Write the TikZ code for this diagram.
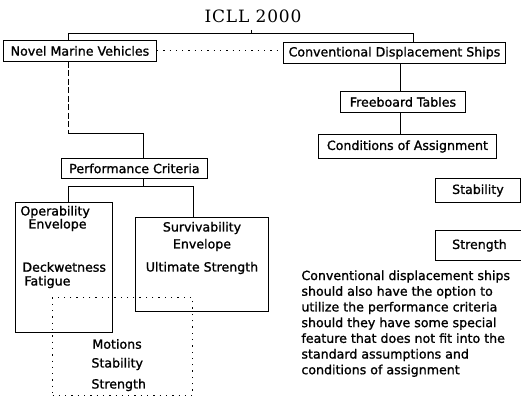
\documentclass[tikz,border=0pt]{standalone}
\usepackage{fontspec}
\setmainfont[FakeBold=1.2]{DejaVu Sans}
\newfontfamily\titlefont[LetterSpace=5]{DejaVu Serif}
\newcommand\lblfont{\fontsize{12.6}{15.7}\selectfont}
\usetikzlibrary{positioning}
\tikzset{
    %Define style for boxes
    box/.style={
           rectangle,
           draw=black,
           line width=0.9pt,
           anchor=north west,
           inner sep=0pt,
           font=\lblfont,
           text centered},
    % Define style for free text
    lbl/.style={
           inner sep=0pt,
           font=\lblfont},
    ttl/.style={
           inner sep=0pt,
           font=\titlefont\fontsize{17}{19}\selectfont},
    % Define line styles
    dotline/.style={
           line width=1pt,
           dash pattern=on 1.3pt off 5pt},
    dashline/.style={
           line width=0.7pt,
           dash pattern=on 6pt off 2.5pt}
}

\begin{document}
\begin{tikzpicture}[x=1pt,y=-1pt,line width=0.9pt]
\useasboundingbox (0,0) rectangle (521,401);
\node[ttl](title) at (253,16){ICLL 2000};
% upper row
\node[box,minimum width=153pt,minimum height=21pt](novel) at (3,40){Novel Marine Vehicles};
\node[box,minimum width=222pt,minimum height=21pt](conv) at (283,42){Conventional Displacement Ships};
\node[box,minimum width=125pt,minimum height=21pt](free) at (340,91){Freeboard Tables};
\node[box,minimum width=178pt,minimum height=24pt](cond) at (318,134){Conditions of Assignment};
\node[box,minimum width=85pt,minimum height=24pt](stab) at (435,178){Stability};
\node[box,minimum width=88pt,minimum height=30pt,text width=85pt](stren) at (435,230){Strength};
% left branch
\node[box,minimum width=146pt,minimum height=20pt](perf) at (61,158){Performance Criteria};
\node[box,minimum width=97pt,minimum height=130pt](oper) at (15,202){};
\node[box,minimum width=133pt,minimum height=94pt](surv) at (135,217){};
\node[box,dotline,minimum width=140pt,minimum height=98pt](motion) at (52,297){};
\node[lbl,anchor=west](operA) at (20,212){Operability};
\node[lbl,anchor=west](operB) at (28,225){Envelope};
\node[lbl,anchor=west](deck) at (22,267){Deckwetness};
\node[lbl,anchor=west](fat) at (24,282){Fatigue};
\node[lbl](survA) at (202,228){Survivability};
\node[lbl](survB) at (202,245){Envelope};
\node[lbl](ult) at (202,268){Ultimate Strength};
\node[lbl,anchor=west](mot) at (92,344){Motions};
\node[lbl,anchor=west](stabm) at (91,364){Stability};
\node[lbl,anchor=west](strm) at (91,385){Strength};
\node[lbl,anchor=north west,align=left](note) at (301,270){Conventional displacement ships\\
should also have the option to\\
utilize the performance criteria\\
should they have some special\\
feature that does not fit into the\\
standard assumptions and\\
conditions of assignment};
% connectors
\coordinate (tk) at (251,30);
\coordinate (brk) at (251,33);
\coordinate (bl) at (68,33);
\coordinate (br) at (413,33);
\coordinate (k1) at (68,133);
\coordinate (k2) at (143,133);
\coordinate (k3) at (143,186);
\coordinate (k4) at (68,186);
\coordinate (k5) at (193,186);
\coordinate (k6) at (400,80);
\draw (tk) -- (brk);
\draw (novel.north -| bl) -- (bl) -- (br) -- (conv.north -| br);
\draw[dotline] (novel.east) -- (novel.east -| conv.west);
\draw[dashline] (novel.south -| k1) -- (k1);
\draw (k1) -- (k2) -- (perf.north -| k2);
\draw (perf.south -| k3) -- (k3);
\draw (oper.north -| k4) -- (k4) -- (k5) -- (surv.north -| k5);
\draw (conv.south -| k6) -- (free.north -| k6);
\draw (free.south -| k6) -- (cond.north -| k6);
\end{tikzpicture}
\end{document}
